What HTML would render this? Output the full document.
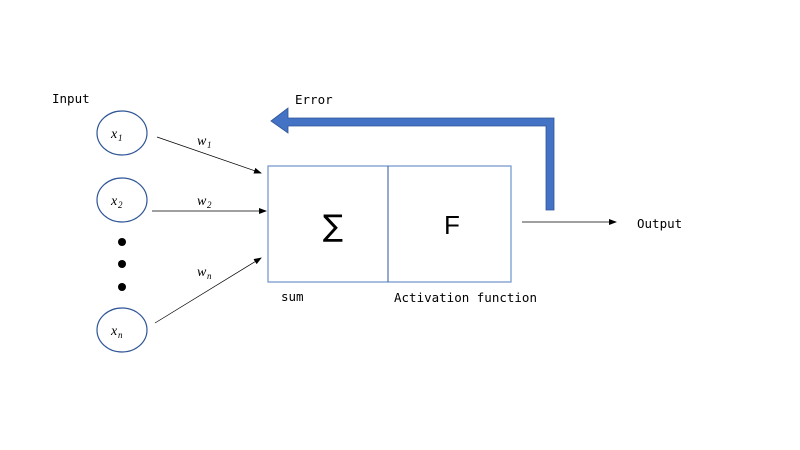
<!DOCTYPE html>
<html><head><style>
body{margin:0;background:#fff;}
svg{display:block;}
text{font-family:"DejaVu Sans Mono","Liberation Mono",monospace;font-size:12.5px;fill:#000;}
.m{font-family:"Liberation Serif",serif;font-style:italic;font-size:14px;}
.s{font-family:"Liberation Serif",serif;font-style:italic;font-size:9px;}
</style></head><body>
<svg width="800" height="450" viewBox="0 0 800 450">
<defs><marker id="a" markerWidth="8" markerHeight="6" refX="7" refY="3" orient="auto" markerUnits="userSpaceOnUse"><path d="M0,0L8,3L0,6z" fill="#000"/></marker></defs>
<text x="52" y="103">Input</text>
<ellipse cx="122" cy="133" rx="25" ry="22" fill="none" stroke="#2f5597" stroke-width="1.2"/>
<ellipse cx="122" cy="200" rx="25" ry="22" fill="none" stroke="#2f5597" stroke-width="1.2"/>
<ellipse cx="122" cy="330" rx="25" ry="22" fill="none" stroke="#2f5597" stroke-width="1.2"/>
<text class="m" x="111" y="138">x</text><text class="s" x="118" y="141">1</text>
<text class="m" x="111" y="205">x</text><text class="s" x="118" y="208">2</text>
<text class="m" x="111" y="335">x</text><text class="s" x="118" y="338">n</text>
<circle cx="122" cy="242" r="4" fill="#000"/><circle cx="122" cy="264" r="4" fill="#000"/><circle cx="122" cy="287" r="4" fill="#000"/>
<line x1="157" y1="137" x2="261" y2="173" stroke="#000" stroke-width="0.7" marker-end="url(#a)"/>
<line x1="152" y1="211" x2="266" y2="211" stroke="#000" stroke-width="0.7" marker-end="url(#a)"/>
<line x1="155" y1="323" x2="261" y2="258" stroke="#000" stroke-width="0.7" marker-end="url(#a)"/>
<text class="m" x="197" y="145">w</text><text class="s" x="207" y="148">1</text>
<text class="m" x="197" y="205">w</text><text class="s" x="207" y="208">2</text>
<text class="m" x="197" y="276">w</text><text class="s" x="207" y="279">n</text>
<rect x="268" y="166" width="243" height="116" fill="#fff" stroke="#6f93cc" stroke-width="1.2"/>
<line x1="388" y1="166" x2="388" y2="282" stroke="#2f5597" stroke-width="1"/>
<text x="333" y="236" text-anchor="middle" style="font-family:'DejaVu Sans',sans-serif;font-size:30px;">∑</text>
<text x="452" y="234" text-anchor="middle" style="font-family:'Liberation Sans',sans-serif;font-size:26px;">F</text>
<text x="281" y="301">sum</text>
<text x="394" y="302">Activation function</text>
<line x1="522" y1="222" x2="616" y2="222" stroke="#000" stroke-width="0.7" marker-end="url(#a)"/>
<text x="637" y="228">Output</text>
<path d="M271,121 L288,108 L288,118 L554,118 L554,210 L546,210 L546,126 L288,126 L288,133 Z" fill="#4472c4" stroke="#2f5597" stroke-width="0.8"/>
<text x="295" y="104">Error</text>
</svg>
</body></html>
